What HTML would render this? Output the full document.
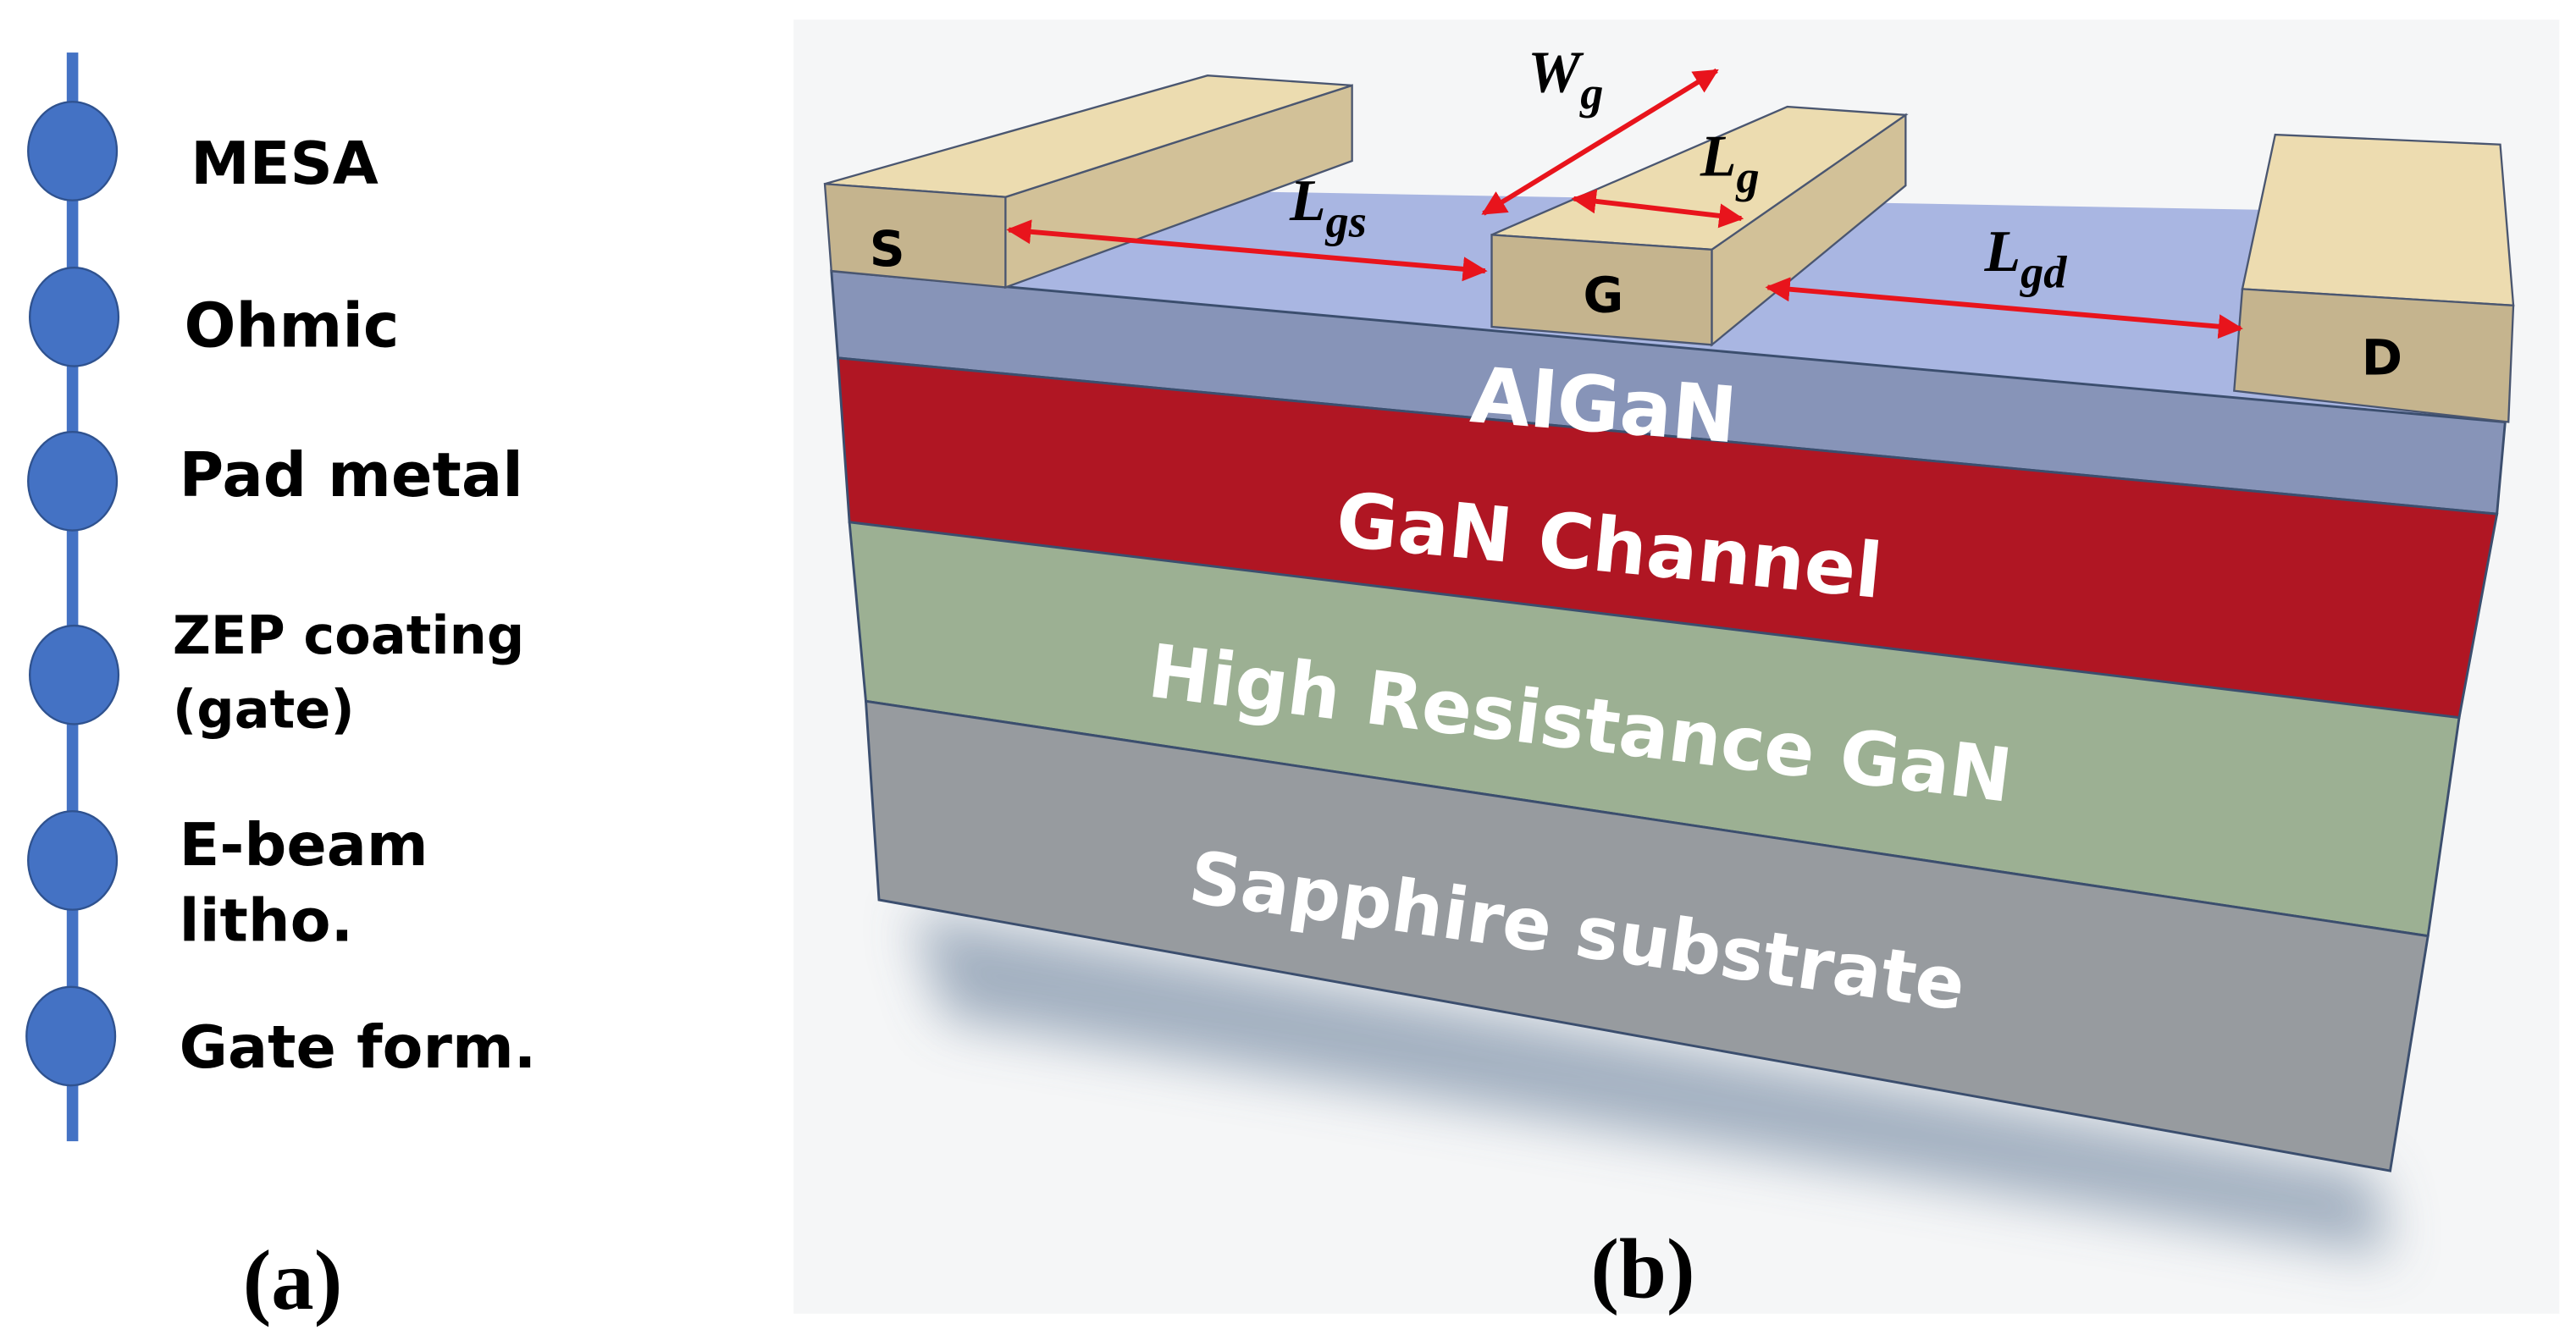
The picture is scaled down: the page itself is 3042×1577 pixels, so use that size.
<!DOCTYPE html>
<html><head><meta charset="utf-8"><style>
html,body{margin:0;padding:0;background:#fff;}
svg{display:block;}
</style></head><body>
<svg width="3042" height="1577" viewBox="0 0 1568 813" xmlns="http://www.w3.org/2000/svg">
<defs>
<filter id="blur" x="-20%" y="-50%" width="140%" height="200%"><feGaussianBlur stdDeviation="16"/></filter>
<marker id="ah" viewBox="0 0 10 10" refX="9" refY="5" markerWidth="5" markerHeight="5" orient="auto-start-reverse"><path d="M0,0 L10,5 L0,10 z" fill="#e8141c"/></marker>
</defs>
<rect width="1568" height="813" fill="#fff"/>
<rect x="40.5" y="32" width="7" height="663" fill="#4472c4"/>
<g fill="#4472c4" stroke="#2f528f" stroke-width="1.2">
<ellipse cx="44" cy="92" rx="27" ry="30"/>
<ellipse cx="45" cy="193" rx="27" ry="30"/>
<ellipse cx="44" cy="293" rx="27" ry="30"/>
<ellipse cx="45" cy="411" rx="27" ry="30"/>
<ellipse cx="44" cy="524" rx="27" ry="30"/>
<ellipse cx="43" cy="631" rx="27" ry="30"/>
</g>
<g font-family="'DejaVu Sans','Liberation Sans',sans-serif" font-weight="bold" fill="#000">
<text x="116" y="112" font-size="36">MESA</text>
<text x="112" y="211" font-size="37">Ohmic</text>
<text x="109" y="302" font-size="37">Pad metal</text>
<text x="105" y="398" font-size="32">ZEP coating</text>
<text x="105" y="443" font-size="32">(gate)</text>
<text x="109" y="527" font-size="36">E-beam</text>
<text x="109" y="573" font-size="36">litho.</text>
<text x="109" y="650" font-size="36">Gate form.</text>
</g>
<text x="178" y="797" text-anchor="middle" font-family="'Liberation Serif',serif" font-weight="bold" font-size="52">(a)</text>
<rect x="483" y="12" width="1075" height="788" fill="#f5f6f7"/>
<polygon points="555,555 1445,715 1455,765 575,620" fill="#93a3b6" opacity="0.85" filter="url(#blur)"/>
<g stroke="#3b4e6e" stroke-width="1.5">
<polygon points="502,112 1500,130 1525,257 506,165" fill="#a9b6e2" stroke="none"/>
<polygon points="506,165 1525,257 1520,313 510,218" fill="#8794b8"/>
<polygon points="510,218 1520,313 1497,437 517,318" fill="#b01623"/>
<polygon points="517,318 1497,437 1478,570 527,427" fill="#9cb093"/>
<polygon points="527,427 1478,570 1455,713 535,548" fill="#979b9f"/>
</g>
<g stroke="#4a5670" stroke-width="1.2">
<polygon points="612,120 823,52 823,98 612,175" fill="#d2c198"/>
<polygon points="502,112 735,46 823,52 612,120" fill="#ecdcb0"/>
<polygon points="502,112 612,120 612,175 506,165" fill="#c5b48e"/>
<polygon points="1042,152 1160,70 1160,113 1042,210" fill="#d2c198"/>
<polygon points="908,143 1088,65 1160,70 1042,152" fill="#ecdcb0"/>
<polygon points="908,143 1042,152 1042,210 908,199" fill="#c5b48e"/>
<polygon points="1365,176 1385,82 1522,88 1530,186" fill="#eddcb0"/>
<polygon points="1365,176 1530,186 1527,257 1360,238" fill="#c5b48e"/>
</g>
<g font-family="'DejaVu Sans','Liberation Sans',sans-serif" font-weight="bold" fill="#000" font-size="30">
<text x="540" y="162" text-anchor="middle">S</text>
<text x="976" y="190" text-anchor="middle">G</text>
<text x="1450" y="228" text-anchor="middle">D</text>
</g>
<g stroke="#e8141c" stroke-width="3" marker-start="url(#ah)" marker-end="url(#ah)">
<line x1="614" y1="140" x2="904" y2="165"/>
<line x1="903" y1="130" x2="1045" y2="43"/>
<line x1="958" y1="121" x2="1060" y2="133"/>
<line x1="1076" y1="175" x2="1364" y2="200"/>
</g>
<g font-family="'Liberation Serif',serif" font-style="italic" font-weight="bold" fill="#000">
<text x="930" y="56" font-size="36">W<tspan font-size="28" dy="10">g</tspan></text>
<text x="785" y="134" font-size="36">L<tspan font-size="28" dy="10">gs</tspan></text>
<text x="1035" y="107" font-size="36">L<tspan font-size="28" dy="10">g</tspan></text>
<text x="1208" y="165" font-size="36">L<tspan font-size="28" dy="10">gd</tspan></text>
</g>
<g font-family="'DejaVu Sans','Liberation Sans',sans-serif" font-weight="bold" fill="#fff" text-anchor="middle">
<text x="0" y="0" font-size="47" transform="translate(975,263) rotate(4.5)">AlGaN</text>
<text x="0" y="0" font-size="46" transform="translate(978,348) rotate(5.5)">GaN Channel</text>
<text x="0" y="0" font-size="45" transform="translate(960,456) rotate(7)">High Resistance GaN</text>
<text x="0" y="0" font-size="44" transform="translate(958,582) rotate(8)">Sapphire substrate</text>
</g>
<text x="1000" y="790" text-anchor="middle" font-family="'Liberation Serif',serif" font-weight="bold" font-size="52">(b)</text>
</svg>
</body></html>
